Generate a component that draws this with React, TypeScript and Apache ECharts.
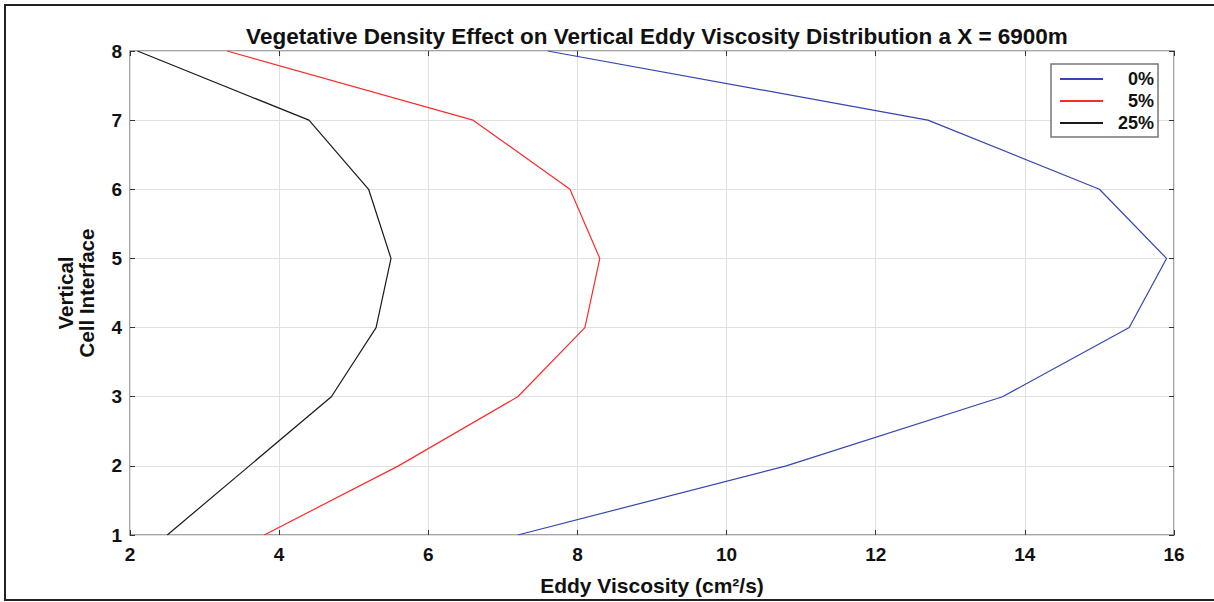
import React, { useEffect, useRef } from "react";
import * as echarts from "echarts";

const cellInterfaces = [1, 2, 3, 4, 5, 6, 7, 8];
const density0 = [7.2, 10.8, 13.7, 15.4, 15.9, 15.0, 12.7, 7.6];
const density5 = [3.8, 5.6, 7.2, 8.1, 8.3, 7.9, 6.6, 3.3];
const density25 = [2.5, 3.6, 4.7, 5.3, 5.5, 5.2, 4.4, 2.1];
const seriesNames = ["0%", "5%", "25%"];
const seriesColors = ["#3346b0", "#ff2a2a", "#1a1a1a"];

const FONT = "'Liberation Sans', Arial, Helvetica, sans-serif";

export default function App() {
  const ref = useRef<HTMLDivElement>(null);
  useEffect(() => {
    if (!ref.current) return;
    const chart = echarts.init(ref.current, null, { renderer: "svg" });
    const datasets = [density0, density5, density25];
    const axisCommon = {
      type: "value" as const,
      axisLine: { show: false },
    };
    chart.setOption({
      animation: false,
      backgroundColor: "#ffffff",
      textStyle: { fontFamily: FONT },
      title: {
        text: "Vegetative Density Effect on Vertical Eddy Viscosity Distribution a X = 6900m",
        left: 652,
        top: 20,
        textAlign: "center",
        textStyle: { fontFamily: FONT, fontSize: 22.5, fontWeight: "bold", color: "#111" },
      },
      graphic: [
        {
          type: "rect",
          shape: { x: 5, y: 5, width: 1260, height: 595 },
          style: { fill: "none", stroke: "#222", lineWidth: 2 },
          silent: true,
        },
      ],
      legend: {
        orient: "vertical",
        right: 56,
        top: 64,
        padding: [5, 4, 4, 8],
        itemGap: 2,
        itemWidth: 43,
        itemHeight: 14,
        borderColor: "#777",
        borderWidth: 1.5,
        backgroundColor: "#fff",
        data: seriesNames,
        itemStyle: { opacity: 0 },
        formatter: "{a|{name}}",
        textStyle: {
          fontFamily: FONT,
          fontSize: 18,
          fontWeight: "bold",
          color: "#111",
          lineHeight: 20,
          rich: {
            a: { width: 46, align: "right", fontSize: 18, fontWeight: "bold", fontFamily: FONT, color: "#111", lineHeight: 20 },
          },
        },
      },
      grid: {
        left: 130,
        right: 40,
        top: 51,
        bottom: 67,
        show: true,
        borderColor: "#888",
        borderWidth: 1.5,
        backgroundColor: "transparent",
      },
      xAxis: [
        {
          ...axisCommon,
          position: "bottom",
          min: 2,
          max: 16,
          interval: 2,
          name: "Eddy Viscosity (cm²/s)",
          nameLocation: "middle",
          nameGap: 40,
          nameTextStyle: { fontFamily: FONT, fontSize: 21, fontWeight: "bold", color: "#111" },
          axisTick: { show: true, inside: true, length: 5, lineStyle: { color: "#333" } },
          axisLabel: { fontFamily: FONT, fontSize: 19, fontWeight: "bold", color: "#111", margin: 10 },
          splitLine: { show: true, lineStyle: { color: "#e0e0e0", width: 1 } },
        },
        {
          ...axisCommon,
          position: "top",
          min: 2,
          max: 16,
          interval: 2,
          axisTick: { show: true, inside: true, length: 5, lineStyle: { color: "#333" } },
          axisLabel: { show: false },
          splitLine: { show: false },
        },
      ],
      yAxis: [
        {
          ...axisCommon,
          position: "left",
          min: 1,
          max: 8,
          interval: 1,
          name: "Vertical\nCell Interface",
          nameLocation: "middle",
          nameRotate: 90,
          nameGap: 33,
          nameTextStyle: { fontFamily: FONT, fontSize: 20.5, fontWeight: "bold", color: "#111", lineHeight: 21 },
          axisTick: { show: true, inside: true, length: 5, lineStyle: { color: "#333" } },
          axisLabel: { fontFamily: FONT, fontSize: 19, fontWeight: "bold", color: "#111", margin: 8 },
          splitLine: { show: true, lineStyle: { color: "#e0e0e0", width: 1 } },
        },
        {
          ...axisCommon,
          position: "right",
          min: 1,
          max: 8,
          interval: 1,
          axisTick: { show: true, inside: true, length: 5, lineStyle: { color: "#333" } },
          axisLabel: { show: false },
          splitLine: { show: false },
        },
      ],
      series: datasets.map((d, i) => ({
        name: seriesNames[i],
        type: "line",
        xAxisIndex: 0,
        yAxisIndex: 0,
        symbol: "none",
        color: seriesColors[i],
        lineStyle: { color: seriesColors[i], width: 1.2 },
        data: d.map((v, j) => [v, cellInterfaces[j]]),
      })),
    });
    return () => chart.dispose();
  }, []);
  return (
    <div
      ref={ref}
      style={{ position: "fixed", left: 0, top: 0, width: 1214, height: 602 }}
    />
  );
}
